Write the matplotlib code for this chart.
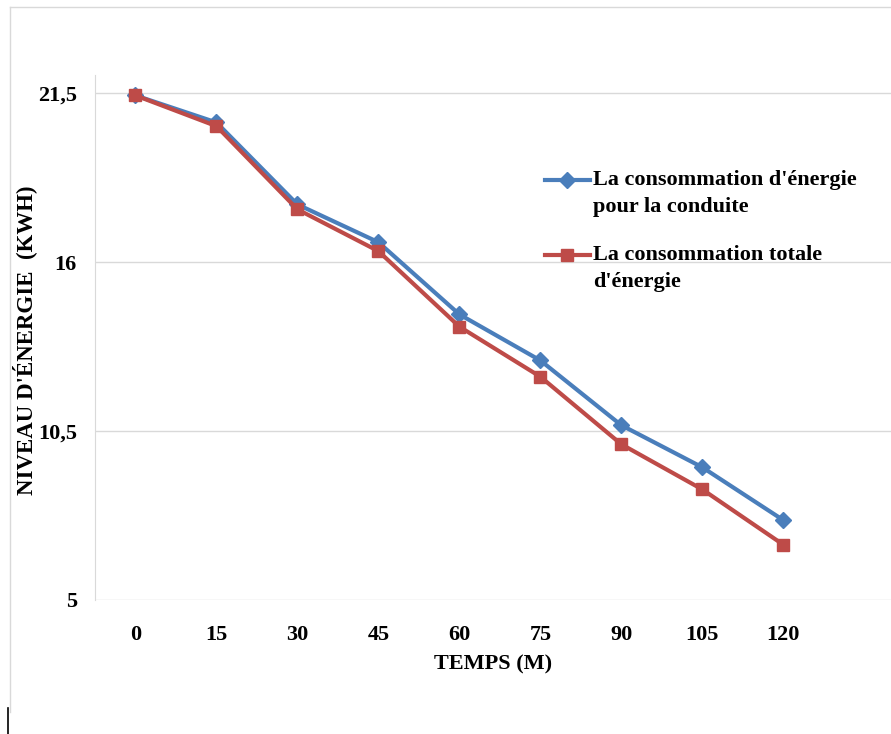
import matplotlib.pyplot as plt
from matplotlib.lines import Line2D

temps = ["0", "15", "30", "45", "60", "75", "90", "105", "120"]
conduite = [21.43, 20.55, 17.88, 16.65, 14.3, 12.8, 10.69, 9.32, 7.6]
totale = [21.43, 20.43, 17.72, 16.36, 13.9, 12.27, 10.07, 8.6, 6.8]
y_ticks = [5, 10.5, 16, 21.5]
y_labels = ["5", "10,5", "16", "21,5"]
series_names = [["La consommation d'énergie", "pour la conduite"],
                ["La consommation totale", "d'énergie"]]

blue = "#4A7EBB"
red = "#BE4B48"
font = "Liberation Serif"

fig = plt.figure(figsize=(8.91, 7.34), dpi=100)
ax = fig.add_axes([0.1066, 0.1826, 0.8934, 0.7154])

x = list(range(len(temps)))
ax.plot(x, conduite, color=blue, lw=3, marker="D", ms=8)
ax.plot(x, totale, color=red, lw=3, marker="s", ms=9)

ax.set_xlim(-0.5, 9.33)
ax.set_ylim(5, 22.1)
ax.set_yticks(y_ticks)
ax.set_yticklabels(y_labels)
ax.set_xticks(x)
ax.set_xticklabels(temps)
ax.grid(axis="y", color="#d9d9d9", lw=1)
ax.set_axisbelow(True)
for s in ["top", "right", "bottom"]:
    ax.spines[s].set_visible(False)
ax.spines["left"].set_color("#d9d9d9")
ax.tick_params(length=0, pad=13)
ax.tick_params(axis="x", pad=18)
for lab in ax.get_xticklabels() + ax.get_yticklabels():
    lab.set_fontfamily(font)
    lab.set_fontweight("bold")
    lab.set_fontsize(16)

ax.set_xlabel("TEMPS (M)", fontfamily=font, fontweight="bold", fontsize=16, labelpad=7)
fig.text(0.027, 0.537, "NIVEAU D'ÉNERGIE  (KWH)", rotation=90, ha="center", va="center",
         fontfamily=font, fontweight="bold", fontsize=16.5)

# legend drawn by hand so the key sits on the first text line, like Excel
legend_style = [(blue, "D", 8, 0.800), (red, "s", 9, 0.657)]
for (color, mk, size, ly), lines in zip(legend_style, series_names):
    ax.add_line(Line2D([0.565, 0.622], [ly, ly], transform=ax.transAxes, color=color, lw=3))
    ax.add_line(Line2D([0.5935], [ly], transform=ax.transAxes, color=color, marker=mk, ms=size, lw=0))
    for i, txt in enumerate(lines):
        ax.text(0.6256, ly - i * 0.0514, txt, transform=ax.transAxes, va="center", ha="left",
                fontfamily=font, fontweight="bold", fontsize=16)

# outer chart border
fig.add_artist(Line2D([0.011, 0.011], [0.03, 0.99], color="#d9d9d9", lw=1))
fig.add_artist(Line2D([0.011, 1.0], [0.99, 0.99], color="#d9d9d9", lw=1))
fig.add_artist(Line2D([0.009, 0.009], [0.0, 0.035], color="black", lw=1.2))

fig.savefig("out.png", dpi=100)
